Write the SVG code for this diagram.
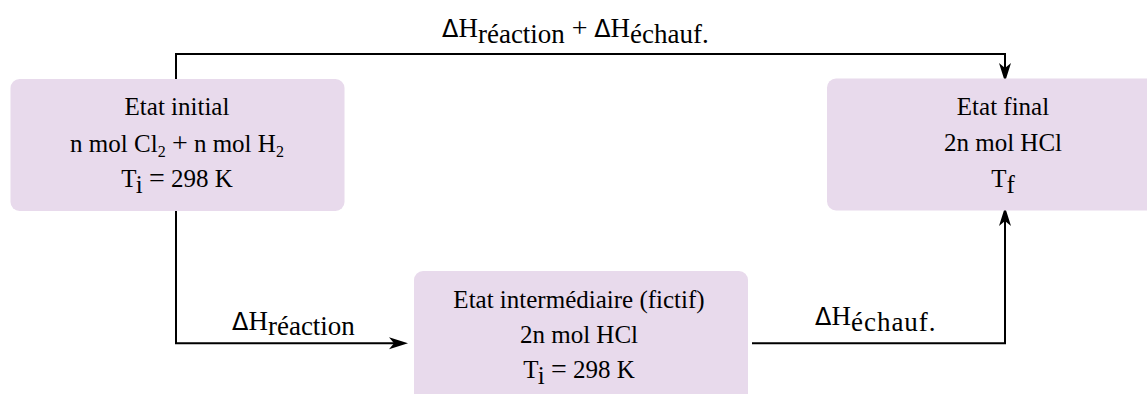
<svg xmlns="http://www.w3.org/2000/svg" width="1147" height="394" viewBox="0 0 1147 394">
  <style>
    .box { fill: #E8DAEC; }
    .t { font-family: "Liberation Serif", "Times New Roman", serif; font-size: 25px; fill: #000; }
    .c { text-anchor: middle; }
    .lbl { font-size: 27px; }
    .delta { font-family: "DejaVu Sans", "Liberation Sans", sans-serif; font-size: 24px; }
    .op { font-size: 28px; }
    .conn { fill: none; stroke: #000; stroke-width: 2; }
    .sub2 { font-size: 16px; }
  </style>
  <defs>
    <marker id="arr" markerUnits="userSpaceOnUse" markerWidth="20" markerHeight="14" viewBox="0 0 20 14" refX="11" refY="7" orient="auto">
      <path d="M0,1 L19,7 L0,13 L5,7 Z" fill="#000"/>
    </marker>
  </defs>
  <rect width="1147" height="394" fill="#fff"/>

  <g id="connectors">
    <path class="conn" d="M176,80 V54 H1005 V74" marker-end="url(#arr)"/>
    <path class="conn" d="M176,210 V343.3 H400" marker-end="url(#arr)"/>
    <path class="conn" d="M752,343.3 H1005 V215" marker-end="url(#arr)"/>
  </g>

  <g id="initial">
    <rect class="box" x="10.5" y="79" width="334" height="132" rx="9"/>
    <text class="t c" x="177" y="115">Etat initial</text>
    <text class="t c" x="177" y="151.5">n mol Cl<tspan class="sub2" dy="5">2</tspan><tspan dy="-5"> </tspan><tspan class="op">+</tspan> n mol H<tspan class="sub2" dy="5">2</tspan></text>
    <text class="t c" x="177" y="187">T<tspan dy="6">i</tspan><tspan dy="-6"> </tspan><tspan class="op">=</tspan> 298 K</text>
  </g>

  <g id="final">
    <rect class="box" x="827" y="78.5" width="354" height="132" rx="9"/>
    <text class="t c" x="1003" y="115">Etat final</text>
    <text class="t c" x="1003" y="151">2n mol HCl</text>
    <text class="t c" x="1003" y="187">T<tspan dy="6">f</tspan></text>
  </g>

  <g id="intermediate">
    <rect class="box" x="414" y="271" width="334" height="140" rx="9"/>
    <text class="t c" x="579" y="308">Etat intermédiaire (fictif)</text>
    <text class="t c" x="579" y="343">2n mol HCl</text>
    <text class="t c" x="579" y="378">T<tspan dy="6">i</tspan><tspan dy="-6"> </tspan><tspan class="op">=</tspan> 298 K</text>
  </g>

  <g id="labels">
    <text class="t lbl" x="442" y="37"><tspan class="delta">Δ</tspan>H<tspan dy="6">réaction</tspan><tspan dy="-6"> </tspan><tspan class="op">+</tspan> <tspan class="delta">Δ</tspan>H<tspan dy="6">échauf.</tspan></text>
    <text class="t lbl" x="232" y="330"><tspan class="delta">Δ</tspan>H<tspan dy="5">réaction</tspan></text>
    <text class="t lbl" x="815" y="325"><tspan class="delta">Δ</tspan>H<tspan dy="6" letter-spacing="1">échauf.</tspan></text>
  </g>
</svg>
